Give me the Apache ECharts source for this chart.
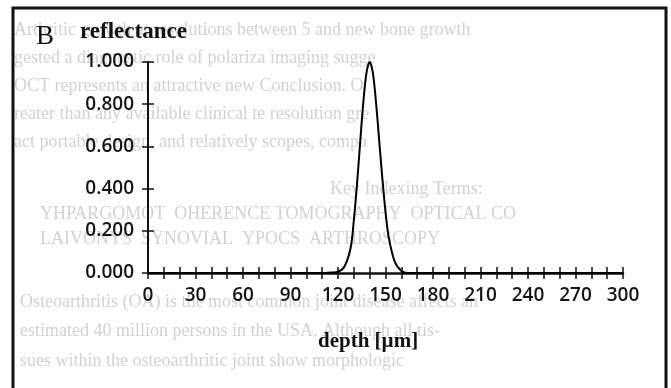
<!DOCTYPE html>
<html>
<head>
<meta charset="utf-8">
<script src="https://cdn.jsdelivr.net/npm/echarts@6/dist/echarts.min.js"></script>
<style>
  html, body { margin: 0; padding: 0; background: #fff; }
  #chart { width: 671px; height: 388px; }
</style>
</head>
<body>
<div id="chart"></div>
<script>
// depth in µm and reflectance
const depth = [0, 100, 112, 116, 120, 124, 128, 130, 132, 134, 136, 138, 140, 142, 144, 146, 148, 150, 152, 156, 160, 164, 180, 300];
const reflectance = [0, 0, 0, 0.002, 0.006, 0.03, 0.12, 0.25, 0.42, 0.62, 0.81, 0.95, 1.0, 0.95, 0.81, 0.63, 0.45, 0.29, 0.17, 0.05, 0.01, 0, 0, 0];

const xTicks = [0, 30, 60, 90, 120, 150, 180, 210, 240, 270, 300];
const yTicks = [0, 0.2, 0.4, 0.6, 0.8, 1.0];

// faint show-through text from the scanned page
const pageLines = [
  { y: 31, x: 14, text: 'Arthritic growth at resolutions between 5 and new bone growth' },
  { y: 59, x: 14, text: 'gested a diagnostic role of polariza imaging sugge' },
  { y: 87, x: 14, text: 'OCT represents an attractive new Conclusion. O' },
  { y: 115, x: 14, text: 'reater than any available clinical te resolution gre' },
  { y: 143, x: 14, text: 'act portable design, and relatively scopes, compa' },
  { y: 190, x: 330, text: 'Key Indexing Terms:' },
  { y: 215, x: 40, text: 'YHPARGOMOT  OHERENCE TOMOGRAPHY  OPTICAL CO' },
  { y: 240, x: 40, text: 'LAIVONYS  SYNOVIAL  YPOCS  ARTHROSCOPY' },
  { y: 303, x: 20, text: 'Osteoarthritis (OA) is the most common joint disease affects an' },
  { y: 332, x: 20, text: 'estimated 40 million persons in the USA. Although all tis-' },
  { y: 362, x: 20, text: 'sues within the osteoarthritic joint show morphologic' }
];

const chart = echarts.init(document.getElementById('chart'), null, { renderer: 'canvas' });

const tickFont = { fontFamily: 'Open Sans', fontWeight: 600, fontSize: 19, color: '#161616' };
const axisColor = '#111';

const option = {
  backgroundColor: '#fff',
  animation: false,
  grid: { left: 148, right: 48, top: 62, bottom: 115 },
  xAxis: [
    {
      type: 'value',
      min: 0,
      max: 300,
      interval: 10,
      axisLine: { show: true, onZero: false, lineStyle: { color: axisColor, width: 2.5 } },
      axisTick: { show: true, length: 6, lineStyle: { color: axisColor, width: 1.5 } },
      axisLabel: {
        margin: 13,
        ...tickFont,
        formatter: v => (xTicks.indexOf(v) >= 0 ? String(v) : '')
      },
      splitLine: { show: false }
    },
    {
      type: 'value',
      position: 'bottom',
      min: 0,
      max: 300,
      interval: 10,
      axisLine: { show: false },
      axisTick: { show: true, inside: true, length: 6, lineStyle: { color: axisColor, width: 1.5 } },
      axisLabel: { show: false },
      splitLine: { show: false }
    }
  ],
  yAxis: [
    {
      type: 'value',
      min: 0,
      max: 1,
      interval: 0.2,
      axisLine: { show: true, onZero: false, lineStyle: { color: axisColor, width: 2 } },
      axisTick: { show: true, length: 6, lineStyle: { color: axisColor, width: 1.5 } },
      axisLabel: {
        margin: 14,
        ...tickFont,
        formatter: v => (yTicks.some(t => Math.abs(t - v) < 1e-6) ? v.toFixed(3) : '')
      },
      splitLine: { show: false }
    },
    {
      type: 'value',
      position: 'left',
      min: 0,
      max: 1,
      interval: 0.2,
      axisLine: { show: false },
      axisTick: { show: true, inside: true, length: 6, lineStyle: { color: axisColor, width: 1.5 } },
      axisLabel: { show: false },
      splitLine: { show: false }
    }
  ],
  series: [
    {
      type: 'line',
      data: depth.map((d, i) => [d, reflectance[i]]),
      smooth: 0.3,
      showSymbol: false,
      lineStyle: { color: '#000', width: 2 },
      z: 5
    }
  ],
  graphic: [
    ...pageLines.map(l => ({
      type: 'text',
      left: l.x,
      top: l.y - 10,
      silent: true,
      z: -10,
      style: {
        text: l.text,
        font: '18px "Liberation Serif"',
        fill: '#d2d2d2'
      }
    })),
    {
      type: 'rect',
      silent: true,
      shape: { x: 13, y: 8, width: 653, height: 420 },
      style: { fill: 'none', stroke: '#111', lineWidth: 3 }
    },
    {
      type: 'text',
      left: 36,
      top: 23,
      style: { text: 'B', font: '27px "Liberation Serif"', fill: '#111' }
    },
    {
      type: 'text',
      left: 80,
      top: 21,
      style: { text: 'reflectance', font: 'bold 23px "Liberation Serif"', fill: '#111' }
    },
    {
      type: 'text',
      left: 318,
      top: 331,
      style: { text: 'depth [µm]', font: 'bold 21px "Liberation Serif"', fill: '#111' }
    }
  ]
};

chart.setOption(option);
</script>
</body>
</html>
